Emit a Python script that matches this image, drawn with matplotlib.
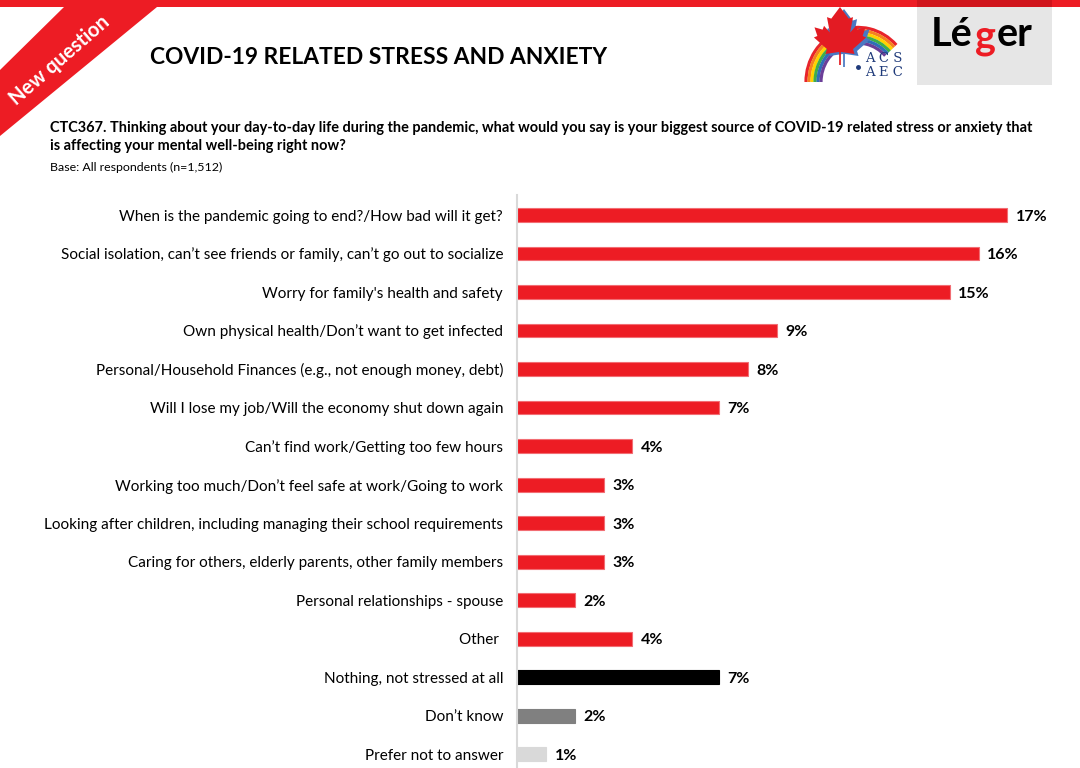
import numpy as np
import matplotlib
matplotlib.use("Agg")
import matplotlib.pyplot as plt
from matplotlib.patches import Polygon, Rectangle, Arc

# ---- data ----
labels = [
    "When is the pandemic going to end?/How bad will it get?",
    "Social isolation, can\u2019t see friends or family, can\u2019t go out to socialize",
    "Worry for family's health and safety",
    "Own physical health/Don\u2019t want to get infected",
    "Personal/Household Finances (e.g., not enough money, debt)",
    "Will I lose my job/Will the economy shut down again",
    "Can\u2019t find work/Getting too few hours",
    "Working too much/Don\u2019t feel safe at work/Going to work",
    "Looking after children, including managing their school requirements",
    "Caring for others, elderly parents, other family members",
    "Personal relationships - spouse",
    "Other ",
    "Nothing, not stressed at all",
    "Don\u2019t know",
    "Prefer not to answer",
]
values = [17, 16, 15, 9, 8, 7, 4, 3, 3, 3, 2, 4, 7, 2, 1]
groups = ["source"] * 12 + ["nothing", "dontknow", "refused"]

title = "COVID-19 RELATED STRESS AND ANXIETY"
question = ("CTC367. Thinking about your day-to-day life during the pandemic, what would you say is your biggest source of COVID-19 related stress or anxiety that\n"
            "is affecting your mental well-being right now?")
base = "Base: All respondents (n=1,512)"

RED = "#ed1c24"
group_colors = {"source": RED, "nothing": "#000000", "dontknow": "#808080", "refused": "#d9d9d9"}

W, H = 1080, 768
plt.rcParams['font.family'] = ["Lato", "DejaVu Sans"]

fig = plt.figure(figsize=(W / 100, H / 100), dpi=100)

# ---- decoration layer in pixel coordinates ----
deco = fig.add_axes([0, 0, 1, 1])
deco.set_xlim(0, W)
deco.set_ylim(H, 0)
deco.axis("off")

deco.add_patch(Rectangle((0, 0), W, 7, color=RED, lw=0))
deco.add_patch(Rectangle((917, 0), 135, 7, color="#d0151c", lw=0))
deco.add_patch(Polygon([(0, 70), (64, 7), (157, 7), (0, 136)], closed=True, color=RED, lw=0))
deco.text(60, 60, "New question", rotation=41, color="white", fontsize=14.5,
          fontweight="bold", ha="center", va="center", rotation_mode="anchor")

# ACS / AEC logo
rainbow = ["#e8242b", "#f58220", "#ffd200", "#3fae49", "#2e6fb7", "#6b3f98"]
for k, c in enumerate(rainbow):
    r = 104 - k * 6
    deco.add_patch(Arc((858, 82), r, r * 1.05, theta1=180, theta2=316, color=c, lw=2.3))
leaf = np.array([
    (0.03, -1), (0.03, -0.55), (0.5, -0.62), (0.45, -0.45), (0.9, -0.05), (0.78, 0.0),
    (0.88, 0.3), (0.6, 0.22), (0.55, 0.35), (0.35, 0.12), (0.45, 0.65), (0.3, 0.6),
    (0, 1), (-0.3, 0.6), (-0.45, 0.65), (-0.35, 0.12), (-0.55, 0.35), (-0.6, 0.22),
    (-0.88, 0.3), (-0.78, 0), (-0.9, -0.05), (-0.45, -0.45), (-0.5, -0.62),
    (-0.03, -0.55), (-0.03, -1)])
deco.add_patch(Polygon(np.c_[844 + leaf[:, 0] * 29, 38 - leaf[:, 1] * 29], closed=True,
                       color="#4a78c2", lw=0))
deco.add_patch(Polygon(np.c_[840 + leaf[:, 0] * 29, 36 - leaf[:, 1] * 29], closed=True,
                       color="#e31b23", lw=0))
deco.text(884, 59, "A C S", family="DejaVu Serif", fontsize=9.5, color="#1f3a7a",
          ha="center", va="center")
deco.text(884, 73, "A E C", family="DejaVu Serif", fontsize=9.5, color="#1f3a7a",
          ha="center", va="center")
deco.plot([858], [67], "o", ms=2.5, color="#1f3a7a")

# Leger logo
deco.add_patch(Rectangle((917, 7), 135, 78, color="#e6e6e6", lw=0))
deco.text(973, 34, "L\u00e9", fontsize=28.5, fontweight="bold", ha="right", va="center")
deco.text(985, 38, "g", fontsize=28.5, fontweight="bold", color=RED, ha="center", va="center")
deco.text(997, 34, "er", fontsize=28.5, fontweight="bold", ha="left", va="center")

# Titles
deco.text(150, 57, title, fontsize=16.4, fontweight="bold", ha="left", va="center")
deco.text(50, 137, question, fontsize=10.45, fontweight="bold", ha="left", va="center",
          linespacing=1.45)
deco.text(50, 167, base, fontsize=8.9, ha="left", va="center")

# ---- bar chart ----
ax = fig.add_axes([517 / W, 0, (W - 517) / W, (H - 195) / H])
pos = np.arange(len(labels))
colors = [group_colors[g] for g in groups]
edges = ["#f26d73" if g == "source" else c for g, c in zip(groups, colors)]
ax.barh(pos, values, height=0.36, color=colors, edgecolor=edges, linewidth=0.8)
for y, v in zip(pos, values):
    ax.text(v + 0.3, y + 0.04, f"{v}%", fontsize=11.5, fontweight="bold", ha="left", va="center")

ax.set_xlim(0, (W - 517) / 28.85)
ax.set_ylim(14.36, -0.52)
ax.set_yticks(pos)
ax.set_yticklabels(labels, fontsize=11)
ax.tick_params(axis="y", length=0, pad=10)
ax.set_xticks([])
for s in ["top", "right", "bottom"]:
    ax.spines[s].set_visible(False)
ax.spines["left"].set_color("#d9d9d9")
ax.spines["left"].set_linewidth(1.5)
ax.patch.set_alpha(0)

fig.savefig("out.png", dpi=100)
